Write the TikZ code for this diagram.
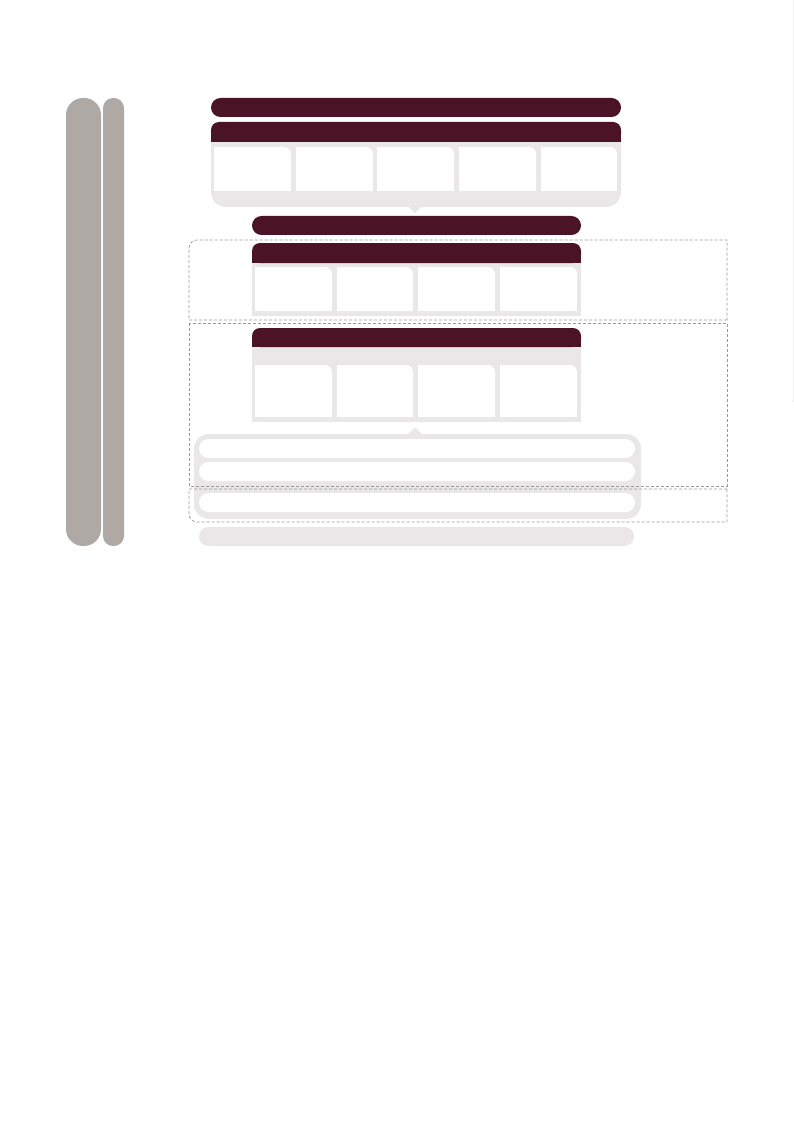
\documentclass[tikz,border=0pt]{standalone}
\usepackage{tikz}
\definecolor{maroon}{HTML}{4A1426}
\definecolor{panelgray}{HTML}{E9E7E8}
\definecolor{sidegray}{HTML}{AEA9A4}
\definecolor{dashgray}{HTML}{9A9A9A}
\definecolor{faintgray}{HTML}{F1F1F1}
\tikzset{
  sidebar/.style={fill=sidegray},
  maroonfill/.style={fill=maroon},
  panel/.style={fill=panelgray},
  cellfill/.style={fill=white},
  dashbox/.style={draw=dashgray, line width=0.7pt, dash pattern=on 3pt off 2pt},
}
\begin{document}
\begin{tikzpicture}[x=1pt,y=-1pt]
\useasboundingbox (0,0) rectangle (794,1123);
\fill[white] (0,0) rectangle (794,1123);
% faint right edge line
\draw[faintgray, line width=0.8pt] (793.5,0) -- (793.5,402);

% left side bars
\fill[sidebar, rounded corners=17pt] (66,98) rectangle (101,546);
\fill[sidebar, rounded corners=10pt] (103,98) rectangle (124,546);

% top maroon bar
\fill[maroonfill, rounded corners=9.5pt] (211,98) rectangle (621,117);

% table 1
\fill[panel, rounded corners=15pt] (211,130) rectangle (621,207);
\fill[panel] (211,130) rectangle (621,175);
\fill[maroonfill, rounded corners=8pt] (211,122) rectangle (621,142);
\fill[maroonfill] (211,132) rectangle (621,142);
\foreach \a/\b in {214/291,296/373,377/454,459/536,541/617}{
  \fill[cellfill, rounded corners=7pt] (\a,147) rectangle (\b,191);
  \fill[cellfill] (\a,147) rectangle (\b-8,191);
  \fill[cellfill] (\a,155) rectangle (\b,191);
}
\fill[panel] (408,206) -- (422,206) -- (415,213.5) -- cycle;

% second maroon bar
\fill[maroonfill, rounded corners=9.5pt] (252,216) rectangle (581,235);

% table 2
\fill[panel] (252,258) rectangle (581,316);
\fill[maroonfill, rounded corners=8pt] (252,243) rectangle (581,263);
\fill[maroonfill] (252,253) rectangle (581,263);
\foreach \a/\b in {255/332,337/413,418/495,500/577}{
  \fill[cellfill, rounded corners=7pt] (\a,267) rectangle (\b,311);
  \fill[cellfill] (\a,267) rectangle (\b-8,311);
  \fill[cellfill] (\a,275) rectangle (\b,311);
}

% table 3
\fill[panel] (252,342) rectangle (581,422);
\fill[maroonfill, rounded corners=8pt] (252,328) rectangle (581,347);
\fill[maroonfill] (252,338) rectangle (581,347);
\foreach \a/\b in {255/332,337/413,418/495,500/577}{
  \fill[cellfill, rounded corners=7pt] (\a,365) rectangle (\b,417);
  \fill[cellfill] (\a,365) rectangle (\b-8,417);
  \fill[cellfill] (\a,373) rectangle (\b,417);
}

% lower container with pointer
\fill[panel] (408,434.5) -- (422,434.5) -- (415,427) -- cycle;
\fill[panel, rounded corners=15pt] (194,434) rectangle (641,519);
\fill[cellfill, rounded corners=9.5pt] (199,439) rectangle (635,458);
\fill[cellfill, rounded corners=9.5pt] (199,462) rectangle (635,481);
\fill[cellfill, rounded corners=9.5pt] (199,493) rectangle (635,512);

% bottom gray pill
\fill[panel, rounded corners=9.5pt] (199,527) rectangle (634,546);

% dashed regions
\draw[dashbox] (727,320) -- (189,320) -- (189,248) .. controls (189,243.6) and (192.6,240) .. (197,240) -- (727,240) -- cycle;
\draw[dashbox] (189,323) rectangle (727,486);
\draw[dashbox] (727,489) -- (189,489) -- (189,514) .. controls (189,518.4) and (192.6,522) .. (197,522) -- (727,522) -- cycle;
\end{tikzpicture}
\end{document}
